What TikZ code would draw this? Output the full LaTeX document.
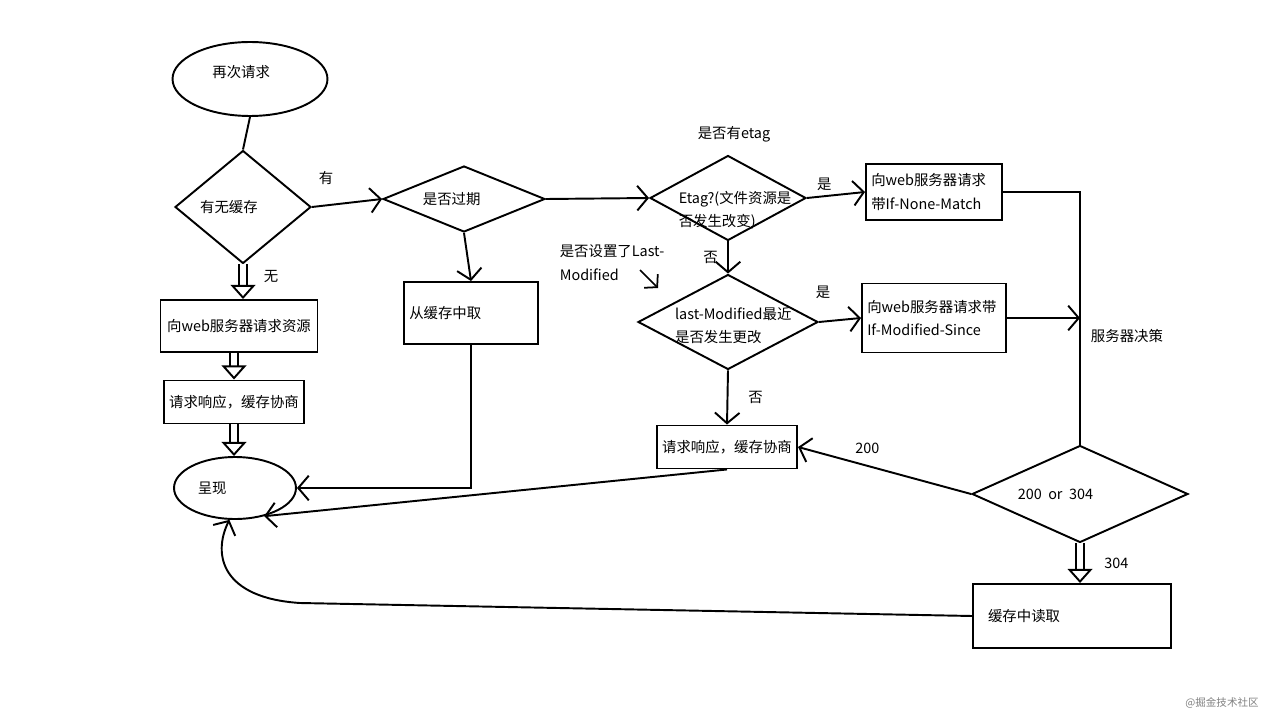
\documentclass[tikz,border=0pt]{standalone}
\usepackage{fontspec}
\setmainfont{Noto Sans CJK SC}
\usepackage{tikz}
\usetikzlibrary{shapes.geometric,arrows.meta}

\begin{document}
\begin{tikzpicture}[x=0.02cm, y=-0.02cm, line width=1.1pt,
    font=\fontsize{8.2}{13.5}\selectfont,
    box/.style={draw, rectangle, inner xsep=3pt, inner ysep=3pt},
    decision/.style={draw, diamond, inner sep=0pt},
    arr/.style={-{Straight Barb[length=6pt,width=14pt]}},
    hollow/.style={double, double distance=3.2pt, line width=1.1pt, -{Triangle[open,length=8pt,width=14pt]}}]
    \useasboundingbox (0,0) rectangle (1274,723);

    % start and end
    \node[draw, ellipse, minimum width=3.1cm, minimum height=1.48cm,
          label={[xshift=-5pt,yshift=4pt]center:再次请求}] (again) at (250,79) {};
    \node[draw, ellipse, minimum width=2.44cm, minimum height=1.24cm,
          label={[xshift=-13pt]center:呈现}] (show) at (235,488) {};

    % decisions
    \node[decision, minimum width=2.72cm, minimum height=2.26cm,
          label={[xshift=-8pt]center:有无缓存}] (cache) at (243,207) {};
    \node[decision, minimum width=3.24cm, minimum height=1.32cm,
          label={[xshift=-7pt]center:是否过期}] (expired) at (464,199) {};
    \node[decision, minimum width=3.12cm, minimum height=1.7cm,
          label={[align=left, xshift=4pt, yshift=-7pt]center:{Etag?(文件资源是\\否发生改变)}}] (etag) at (728,198) {};
    \node[decision, minimum width=3.6cm, minimum height=1.9cm,
          label={[align=left, xshift=3pt, yshift=-2pt]center:{last-Modified最近\\是否发生更改}}] (lastmod) at (728,322) {};
    \node[decision, minimum width=4.32cm, minimum height=1.94cm,
          label={[xshift=-14pt]center:200\ \ or\ \ 304}] (status) at (1080,494) {};

    % boxes
    \node[box, minimum width=3.14cm, minimum height=1.04cm] (askres) at (239,326) {向web服务器请求资源};
    \node[box, minimum width=2.76cm, minimum height=0.86cm] (nego1) at (234,402) {请求响应，缓存协商};
    \node[box, text width=2.47cm, minimum height=1.24cm, align=left] (fromcache) at (471,313) {从缓存中取};
    \node[box, text width=2.51cm, minimum height=1.12cm, align=left] (nonematch) at (934,192) {向web服务器请求\\带If-None-Match};
    \node[box, text width=2.67cm, minimum height=1.38cm, align=left] (modsince) at (934,318) {向web服务器请求带\\If-Modified-Since};
    \node[box, minimum width=2.76cm, minimum height=0.86cm] (nego2) at (727,447) {请求响应，缓存协商};
    \node[box, inner xsep=8.5pt, text width=3.36cm, minimum height=1.28cm, align=left] (readcache) at (1072,616) {缓存中读取};

    % left column
    \draw (again.south) -- (cache.north);
    \draw[hollow] (cache.south) -- node[right=8pt, pos=.35] (lno) {无} (cache.south |- askres.north);
    \draw[hollow] (nego1.north |- askres.south) -- (nego1.north);
    \draw[hollow] (nego1.south) -- (nego1.south |- show.north);

    % cache found
    \draw[arr] (cache.east) -- node[pos=.2, above=8pt] (lyes) {有} (expired.west);
    \draw[arr] (expired.south) -- (fromcache.north);
    \draw[arr] (fromcache.south) -- (fromcache.south |- show.east) -- (show.east);
    \draw[arr] (expired.east) -- (etag.west);
    \node (etagq) at (734,134) {是否有etag};
    \draw[arr] (etag.east) -- node[pos=.3, above=-1pt] (lyes2) {是} (nonematch.west);
    \draw[arr] (etag.south) -- node[left=2pt] (lno2) {否} (lastmod.north);
    \node[align=left, anchor=west] (lmq) at (553,263) {是否设置了Last-\\Modified};
    \coordinate (hinta) at (640,270);
    \coordinate (hintb) at (658,288);
    \draw[-{Straight Barb[length=5pt,width=11pt]}, line width=1pt] (hinta) -- (hintb);
    \draw[arr] (lastmod.east) -- node[pos=.1, above=9pt] (lyes3) {是} (modsince.west);
    \draw[arr] (lastmod.south) -- node[right=8pt] (lno3) {否} (nego2.north);

    % server side
    \draw (nonematch.east) -| (status.north);
    \draw[arr] (modsince.east) -- (modsince.east -| status.north);
    \node (decide) at (1127,336) {服务器决策};
    \draw[arr] (status.west) -- node[pos=.6, above=3pt] (l200) {200} (nego2.east);
    \draw[hollow] (status.south) -- node[right=10pt] (l304) {304} (status.south |- readcache.north);

    % back to show
    \draw[arr] (nego2.south) -- (show.-44);
    \coordinate (turn) at (300,603);
    \draw[arr] (readcache.west) -- (turn) .. controls (222,598) and (212,555) .. (show.-100);

    \node[gray, font=\fontsize{6}{7}\selectfont] (mark) at (1222,703) {@掘金技术社区};
\end{tikzpicture}
\end{document}
